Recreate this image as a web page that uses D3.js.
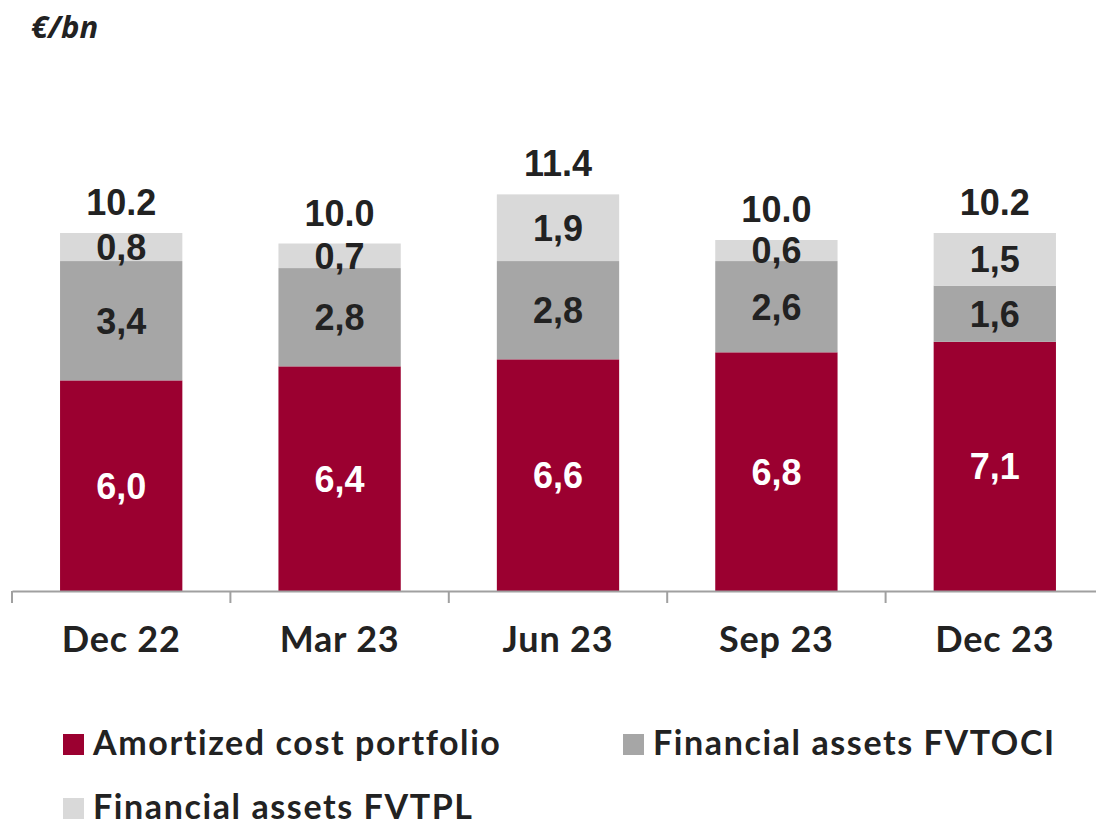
<!DOCTYPE html>
<html>
<head>
<meta charset="utf-8">
<script src="https://cdn.jsdelivr.net/npm/d3@7"></script>
<style>
  body { margin: 0; background: #fff; }
  svg { display: block; }
</style>
</head>
<body>
<div id="chart"></div>
<script>
// chart data
const categories = ["Dec 22", "Mar 23", "Jun 23", "Sep 23", "Dec 23"];
const amortized = [6.0, 6.4, 6.6, 6.8, 7.1];
const fvtoci = [3.4, 2.8, 2.8, 2.6, 1.6];
const fvtpl = [0.8, 0.7, 1.9, 0.6, 1.5];
const totals = ["10.2", "10.0", "11.4", "10.0", "10.2"];
const seriesNames = ["Amortized cost portfolio", "Financial assets FVTOCI", "Financial assets FVTPL"];

const width = 1096, height = 826;
const colors = ["#9b0030", "#a6a6a6", "#d9d9d9"];
const labelColors = ["#ffffff", "#222222", "#222222"];

const svg = d3.select("#chart")
              .append("svg")
              .attr("width", width)
              .attr("height", height);

// x scale spans the axis line, bars sit in the middle of each band
const xScale = d3.scaleBand()
                 .domain(categories)
                 .range([12, 1104])
                 .paddingInner(0.44)
                 .paddingOuter(0.22);

const bandScale = d3.scaleBand()
                    .domain(categories)
                    .range([12, 1104]);

const yScale = d3.scaleLinear()
                 .domain([0, 12])
                 .range([591, 169.8]);

// build stacked rows
const rows = categories.map((c, i) => ({cat: c, s0: amortized[i], s1: fvtoci[i], s2: fvtpl[i]}));
const stack = d3.stack().keys(["s0", "s1", "s2"])(rows);

const layer = svg.selectAll(".layer")
                 .data(stack)
                 .enter().append("g")
                 .attr("class", "layer")
                 .attr("fill", (d, i) => colors[i]);

layer.selectAll("rect")
     .data(d => d)
     .enter().append("rect")
     .attr("x", d => xScale(d.data.cat))
     .attr("y", d => yScale(d[1]))
     .attr("width", xScale.bandwidth())
     .attr("height", d => yScale(d[0]) - yScale(d[1]));

// segment labels
stack.forEach((s, si) => {
    svg.selectAll(".seg" + si)
       .data(s)
       .enter().append("text")
       .attr("class", "seg" + si)
       .attr("x", d => xScale(d.data.cat) + xScale.bandwidth() / 2)
       .attr("y", d => (yScale(d[0]) + yScale(d[1])) / 2)
       .attr("dy", "0.36em")
       .attr("text-anchor", "middle")
       .style("font-family", "'Liberation Sans', Arial, sans-serif")
       .style("font-weight", "bold")
       .style("font-size", "36px")
       .style("fill", labelColors[si])
       .text(d => d3.format(".1f")(d[1] - d[0]).replace(".", ","));
});

// total labels above bars
svg.selectAll(".total")
   .data(rows)
   .enter().append("text")
   .attr("class", "total")
   .attr("x", d => xScale(d.cat) + xScale.bandwidth() / 2)
   .attr("y", d => yScale(d.s0 + d.s1 + d.s2) - 18)
   .attr("text-anchor", "middle")
   .style("font-family", "'Liberation Sans', Arial, sans-serif")
   .style("font-weight", "bold")
   .style("font-size", "36px")
   .style("fill", "#222")
   .text((d, i) => totals[i]);

// x axis
const xAxis = d3.axisBottom(bandScale).tickSize(0).tickPadding(35);
const axisG = svg.append("g")
                 .attr("transform", "translate(0,591)")
                 .call(xAxis);
axisG.select(".domain").attr("stroke", "#a0a0a0").attr("stroke-width", 2);
axisG.selectAll("text")
     .style("font-family", "Lato, sans-serif")
     .style("font-weight", "bold")
     .style("font-size", "36px")
     .style("letter-spacing", "0.8px")
     .style("fill", "#222");

// tick marks at band boundaries
const bounds = categories.map(c => bandScale(c)).concat([bandScale.range()[1]]);
svg.selectAll(".tickmark")
   .data(bounds)
   .enter().append("line")
   .attr("class", "tickmark")
   .attr("x1", d => d).attr("x2", d => d)
   .attr("y1", 591).attr("y2", 603)
   .attr("stroke", "#a0a0a0")
   .attr("stroke-width", 2);

// unit label
svg.append("text")
   .attr("x", 31)
   .attr("y", 38)
   .style("font-family", "'Open Sans', sans-serif")
   .style("font-weight", "bold")
   .style("font-style", "italic")
   .style("font-size", "31px")
   .style("fill", "#222")
   .text("€/bn");

// legend
const legendPos = [[63, 755], [623, 755], [63, 819]];
const legend = svg.selectAll(".legend")
                  .data(seriesNames)
                  .enter().append("g")
                  .attr("class", "legend")
                  .attr("transform", (d, i) => "translate(" + legendPos[i][0] + "," + legendPos[i][1] + ")");

legend.append("rect")
      .attr("x", 0)
      .attr("y", -21)
      .attr("width", 21)
      .attr("height", 21)
      .attr("fill", (d, i) => colors[i]);

legend.append("text")
      .attr("x", 30)
      .attr("y", 0)
      .style("font-family", "Lato, sans-serif")
      .style("font-weight", "bold")
      .style("font-size", "34px")
      .style("letter-spacing", "1.6px")
      .style("fill", "#222")
      .text(d => d);
</script>
</body>
</html>
